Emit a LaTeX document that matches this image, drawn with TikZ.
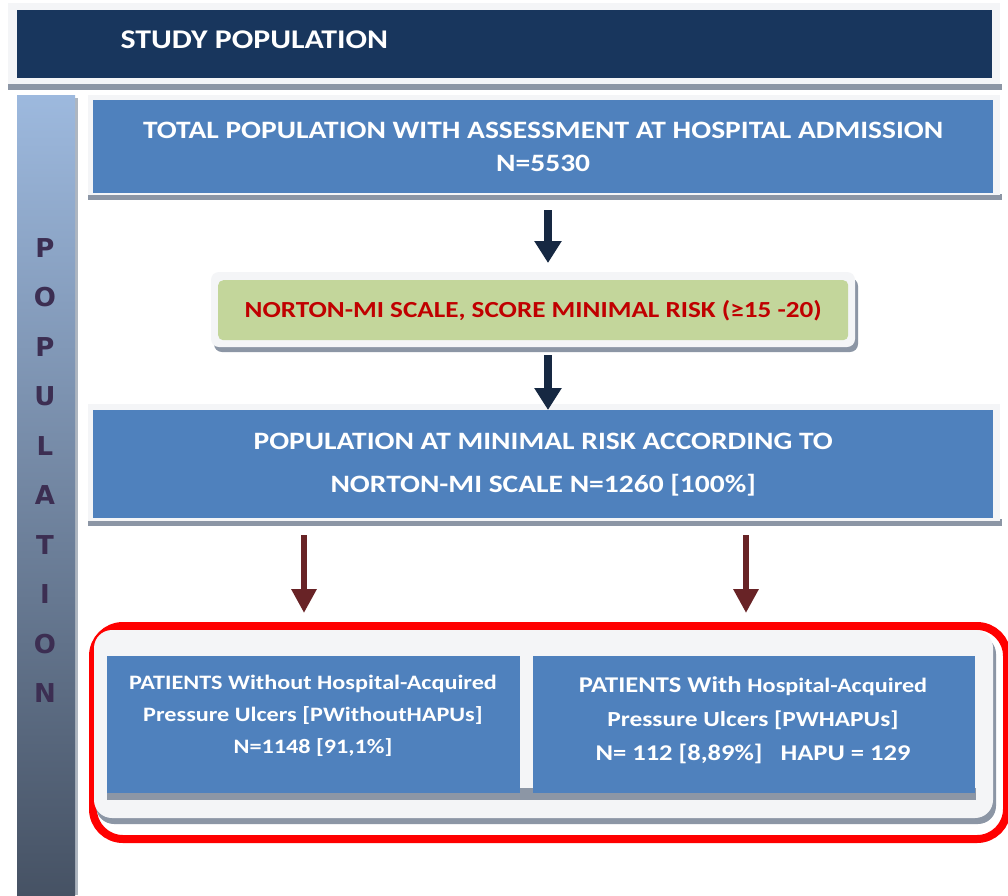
\documentclass[tikz,border=0pt]{standalone}
\usepackage{fontspec}
\setmainfont{Carlito}[FakeStretch=1.18]
\newfontfamily\sidefont{DejaVu Sans}
\usetikzlibrary{arrows.meta,positioning,shadows}
\definecolor{navy}{RGB}{24,54,93}
\definecolor{boxblue}{RGB}{79,129,189}
\definecolor{shadowgray}{RGB}{140,150,165}
\definecolor{framegray}{RGB}{244,245,247}
\definecolor{green1}{RGB}{195,214,155}
\definecolor{darkred}{RGB}{192,0,0}
\definecolor{brown1}{RGB}{104,35,38}
\definecolor{arrownavy}{RGB}{22,40,66}
\definecolor{sidetop}{RGB}{157,185,222}
\definecolor{sidebot}{RGB}{70,82,100}
\definecolor{letter}{RGB}{60,46,82}
\tikzset{
  bluebox/.style={fill=boxblue, draw=none, text=white, align=center, font=\bfseries},
  bigarrow/.style={draw=arrownavy, line width=8pt, -{Triangle[width=26pt,length=22pt]}},
  brownarrow/.style={draw=brown1, line width=6pt, -{Triangle[width=24pt,length=24pt]}},
}
\begin{document}
\begin{tikzpicture}[x=1pt,y=-1pt]
\useasboundingbox (0,0) rectangle (1008,895);
\fill[white] (0,0) rectangle (1008,895);
% header
\fill[shadowgray] (8,84) rectangle (1002,90);
\fill[framegray] (8,3) rectangle (1000,84);
\node[fill=navy, minimum width=975pt, minimum height=68pt, anchor=north west, inner sep=0pt] (header) at (17,10) {};
\node[anchor=west, text=white, font=\fontsize{27}{30}\selectfont\bfseries] (htitle) at (117,40) {STUDY POPULATION};
% sidebar
\fill[shadowgray!70] (74,98) rectangle (78,895);
\shade[top color=sidetop, bottom color=sidebot] (17,95) rectangle (75,895);
\foreach \l [count=\i] in {P,O,P,U,L,A,T,I,O,N}
  \node[text=letter, font=\sidefont\bfseries\fontsize{26}{28}\selectfont, inner sep=0pt] (side\i) at (45,{248+(\i-1)*49.5}) {\l};
% box 1
\fill[shadowgray] (88,194) rectangle (1002,200);
\fill[framegray] (88,95) rectangle (1000,195);
\node[bluebox, minimum width=900pt, minimum height=93pt, anchor=north west, inner sep=0pt,
  font=\fontsize{25}{33}\selectfont\bfseries] (box1) at (93,100)
  {TOTAL POPULATION WITH ASSESSMENT AT HOSPITAL ADMISSION\\N=5530};
% norton box
\fill[shadowgray, rounded corners=8pt] (214,278) rectangle (858,352);
\fill[framegray, rounded corners=8pt] (211,272) rectangle (855,347);
\node[fill=green1, rounded corners=5pt, minimum width=630pt, minimum height=60pt, anchor=north west, inner sep=0pt,
  text=darkred, font=\fontsize{23}{26}\selectfont\bfseries] (norton) at (218,280)
  {NORTON-MI SCALE, SCORE MINIMAL RISK (≥15 -20)};
% box 3
\fill[shadowgray] (88,519) rectangle (1002,526);
\fill[framegray] (88,404) rectangle (1000,521);
\node[bluebox, minimum width=900pt, minimum height=108pt, anchor=north west, inner sep=0pt,
  font=\fontsize{25}{43}\selectfont\bfseries] (box3) at (93,410)
  {POPULATION AT MINIMAL RISK ACCORDING TO\\NORTON-MI SCALE N=1260 [100\%]};
% result frame
\node[draw=red, line width=8pt, rounded corners=30pt, minimum width=914pt, minimum height=213pt, anchor=north west, inner sep=0pt] (result) at (89,622) {};
\fill[shadowgray, rounded corners=18pt] (96,636) rectangle (996,824);
\fill[framegray, rounded corners=18pt] (94,630) rectangle (993,818);
\fill[shadowgray] (107,788) rectangle (976,800);
\node[bluebox, minimum width=413pt, minimum height=137pt, anchor=north west, inner sep=0pt] (left) at (107,656) {};
\node[bluebox, minimum width=442pt, minimum height=137pt, anchor=north west, inner sep=0pt] (right) at (533,656) {};
\node[text=white, align=center, font=\fontsize{20.5}{32}\selectfont\bfseries] (lefttext) at (313,716)
  {PATIENTS Without Hospital-Acquired\\Pressure Ulcers [PWithoutHAPUs]\\N=1148 [91,1\%]};
\node[text=white, align=center, font=\fontsize{22.5}{34}\selectfont\bfseries] (righttext) at (753,720)
  {PATIENTS With {\fontsize{20.5}{34}\selectfont Hospital-Acquired}\\{\fontsize{21.5}{34}\selectfont Pressure Ulcers [PWHAPUs]}\\N= 112 [8,89\%]\ \ \ HAPU = 129};
% connectors
\coordinate (a1s) at (548,210);
\coordinate (a1e) at (548,263);
\coordinate (a2s) at (548,355);
\coordinate (a2e) at (548,410);
\draw[bigarrow] (a1s) -- (a1e);
\draw[bigarrow] (a2s) -- (a2e);
\coordinate (b1s) at (304,535);
\coordinate (b1e) at (304,613);
\coordinate (b2s) at (746,535);
\coordinate (b2e) at (746,613);
\draw[brownarrow] (b1s) -- (b1e);
\draw[brownarrow] (b2s) -- (b2e);
\end{tikzpicture}
\end{document}
